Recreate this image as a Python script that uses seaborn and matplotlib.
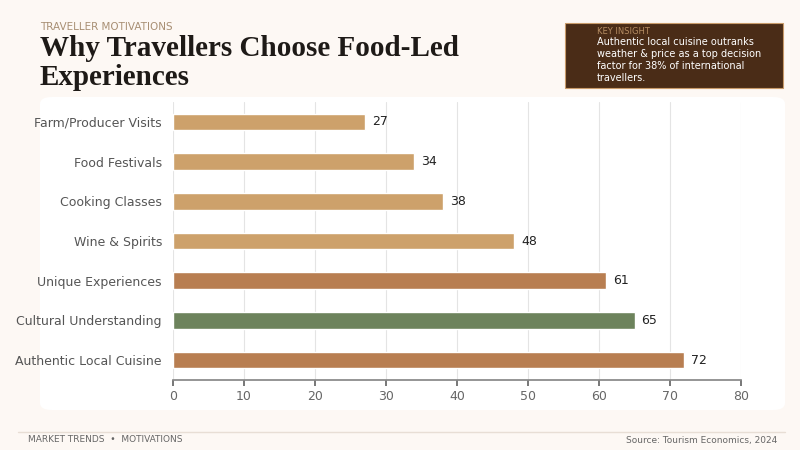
import matplotlib.pyplot as plt
import seaborn as sns
import pandas as pd
from matplotlib.patches import FancyBboxPatch, Rectangle

# Data
categories = ['Farm/Producer Visits', 'Food Festivals', 'Cooking Classes', 'Wine & Spirits',
              'Unique Experiences', 'Cultural Understanding', 'Authentic Local Cuisine']
values = [27, 34, 38, 48, 61, 65, 72]
bar_colors = ['#DDA35B', '#DDA35B', '#DDA35B', '#DDA35B', '#C97C40', '#6C8A55', '#C97C40']

df = pd.DataFrame({'category': categories, 'value': values})

sns.set_theme(style='white')
fig = plt.figure(figsize=(8, 4.5), dpi=100)
fig.patch.set_facecolor('#FDF8F4')

# white chart panel, behind the axes
panel = FancyBboxPatch((40 / 800, 40 / 450), 745 / 800, 313 / 450,
                       boxstyle='round,pad=0,rounding_size=0.015',
                       transform=fig.transFigure, facecolor='white',
                       edgecolor='none', zorder=-5)
fig.add_artist(panel)

ax = fig.add_axes([173 / 800, 70 / 450, 568 / 800, 278 / 450])
ax.set_zorder(2)
ax.set_facecolor('white')
sns.barplot(data=df, x='value', y='category', hue='category', palette=bar_colors,
            legend=False, width=0.42, ax=ax, zorder=3)
ax.set_xlim(0, 80)
ax.set_xticks(range(0, 81, 10))
ax.xaxis.grid(True, color='#E4E4E4', linewidth=0.8, zorder=0)
ax.set_axisbelow(True)
for s in ['top', 'right', 'left']:
    ax.spines[s].set_visible(False)
ax.spines['bottom'].set_color('#888888')
ax.tick_params(axis='x', colors='#666666', labelsize=9, length=4, direction='out', bottom=True)
ax.tick_params(axis='y', colors='#555555', labelsize=9, length=0, pad=8)
ax.set_xlabel('')
ax.set_ylabel('')
for i, v in enumerate(values):
    ax.text(v + 1, i, str(v), va='center', ha='left', fontsize=9, color='#222222')

# titles
fig.text(40 / 800, 1 - 27 / 450, 'TRAVELLER MOTIVATIONS', fontsize=7.5, color='#A88F74',
         va='center')
fig.text(40 / 800, 1 - 63 / 450, 'Why Travellers Choose Food-Led\nExperiences', fontsize=21,
         fontweight='bold', color='#1E1A17', va='center', linespacing=1.05,
         fontfamily='Liberation Serif')

# insight box
fig.add_artist(Rectangle((565 / 800, 1 - 88 / 450), 218 / 800, 65 / 450,
                         transform=fig.transFigure, facecolor='#4A2C17',
                         edgecolor='#C99B6A', linewidth=0.8))
fig.text(597 / 800, 1 - 31 / 450, 'KEY INSIGHT', fontsize=6, color='#B58C62', va='center')
fig.text(597 / 800, 1 - 37 / 450,
         'Authentic local cuisine outranks\nweather & price as a top decision\nfactor for 38% of international\ntravellers.',
         fontsize=7, color='white', va='top', linespacing=1.25)

# footer
fig.add_artist(plt.Line2D([18 / 800, 785 / 800], [1 - 432 / 450] * 2, color='#E8DED5',
                          linewidth=1, transform=fig.transFigure))
fig.text(28 / 800, 1 - 440 / 450, 'MARKET TRENDS  •  MOTIVATIONS', fontsize=6.5,
         color='#666666', va='center')
fig.text(777 / 800, 1 - 440 / 450, 'Source: Tourism Economics, 2024', fontsize=6.5,
         color='#666666', va='center', ha='right')

fig.savefig('out.png', dpi=100, facecolor=fig.get_facecolor())
